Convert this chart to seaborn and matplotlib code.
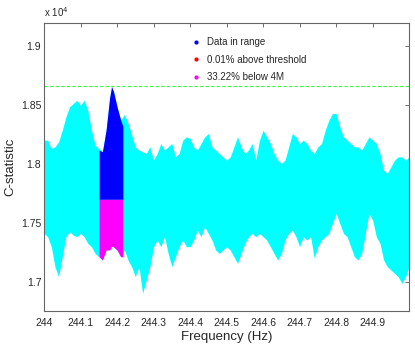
import numpy as np
import matplotlib
matplotlib.use("Agg")
import matplotlib.pyplot as plt
import seaborn as sns

# envelope of the C-statistic cloud (every 0.01 Hz)
freq = np.round(np.arange(244.0, 245.001, 0.01), 2)
upper = [18203, 18203, 18132, 18146, 18188, 18287, 18401, 18486, 18514, 18542,
         18500, 18542, 18457, 18287, 18160, 18132, 18104, 18287, 18570, 18627,
         18486, 18373, 18420, 18350, 18250, 18146, 18118, 18104, 18089, 18146,
         18033, 18089, 18174, 18118, 18146, 18174, 18061, 18089, 18203, 18231,
         18217, 18146, 18118, 18174, 18231, 18259, 18146, 18118, 18089, 18061,
         18033, 18061, 18146, 18231, 18146, 18089, 18118, 18174, 18033, 18203,
         18287, 18231, 18174, 18089, 18033, 18005, 18033, 18146, 18259, 18231,
         18174, 18203, 18174, 18118, 18089, 18146, 18174, 18287, 18372, 18429,
         18429, 18316, 18231, 18203, 18174, 18146, 18146, 18118, 18174, 18231,
         18203, 18174, 18089, 17948, 17920, 17976, 18033, 18061, 18061, 18033,
         18061]
lower = [17410, 17382, 17297, 17127, 17042, 17212, 17382, 17424, 17396, 17382,
         17410, 17382, 17325, 17297, 17240, 17212, 17184, 17269, 17325, 17297,
         17269, 17212, 17269, 17184, 17127, 17042, 17127, 16900, 17014, 17127,
         17297, 17354, 17297, 17382, 17240, 17127, 17212, 17297, 17354, 17297,
         17297, 17354, 17438, 17382, 17467, 17410, 17354, 17269, 17240, 17269,
         17297, 17269, 17212, 17155, 17240, 17325, 17382, 17410, 17382, 17410,
         17382, 17354, 17297, 17240, 17184, 17240, 17354, 17410, 17438, 17382,
         17297, 17382, 17354, 17382, 17200, 17297, 17354, 17382, 17410, 17495,
         17580, 17495, 17410, 17382, 17297, 17212, 17184, 17240, 17410, 17580,
         17523, 17382, 17325, 17184, 17127, 17099, 17070, 17042, 16985, 17042,
         17127]

# the frequency band that is in range
band_freq = [244.151, 244.16, 244.17, 244.18, 244.185, 244.19, 244.20, 244.21, 244.216]
band_upper = [18118, 18104, 18287, 18570, 18660, 18620, 18486, 18373, 18320]
band_lower = [17212, 17184, 17269, 17269, 17300, 17297, 17269, 17212, 17210]
cut_4m = 17700
threshold = 18660

legend_labels = ["Data in range", "0.01% above threshold", "33.22% below 4M"]
xticks = [244.0, 244.1, 244.2, 244.3, 244.4, 244.5, 244.6, 244.7, 244.8, 244.9]
yticks = [17000, 17500, 18000, 18500, 19000]

sns.set_theme(style="white")
plt.rcParams["font.family"] = ["Liberation Sans", "DejaVu Sans"]

fig = plt.figure(figsize=(4.15, 3.46), dpi=100)
ax = fig.add_axes([0.106, 0.101, 0.88, 0.833])

cyan = "#00ffff"
ax.fill_between(freq, lower, upper, color=cyan, linewidth=0)

ax.fill_between(band_freq, cut_4m, band_upper, color="#0000ff", linewidth=0)
ax.fill_between(band_freq, band_lower, cut_4m, color="#ff00ff", linewidth=0)

ax.axhline(threshold, color="#33ff33", linestyle=(0, (3, 2)), linewidth=0.8)

# legend handles
ax.plot([], [], ".", color="#0000ff", markersize=4, label=legend_labels[0])
ax.plot([], [], ".", color="#ff0000", markersize=4, label=legend_labels[1])
ax.plot([], [], ".", color="#ff00ff", markersize=4, label=legend_labels[2])
ax.legend(loc="upper center", bbox_to_anchor=(0.56, 0.98), frameon=False,
          fontsize=7, handlelength=1.0, handletextpad=0.6, labelspacing=0.75)

ax.set_xlim(244.0, 245.0)
ax.set_ylim(16750, 19200)
ax.set_xticks(xticks)
ax.set_xticklabels([f"{t:g}" for t in xticks])
ax.set_yticks(yticks)
ax.set_yticklabels([f"{t / 1e4:g}" for t in yticks])
ax.tick_params(direction="in", length=3, width=0.6, top=True, right=True,
               labelsize=7.5, color="#555555")
ax.tick_params(axis="y", pad=2)
ax.tick_params(axis="x", pad=5)
for s in ax.spines.values():
    s.set_color("#666666")
    s.set_linewidth(0.8)

ax.text(0.0, 1.015, r"x 10$^4$", transform=ax.transAxes, fontsize=7,
        ha="left", va="bottom")
ax.set_xlabel("Frequency (Hz)", fontsize=9.5, labelpad=2)
ax.set_ylabel("C-statistic", fontsize=9.5, labelpad=3)

fig.savefig("out.png", dpi=100)
